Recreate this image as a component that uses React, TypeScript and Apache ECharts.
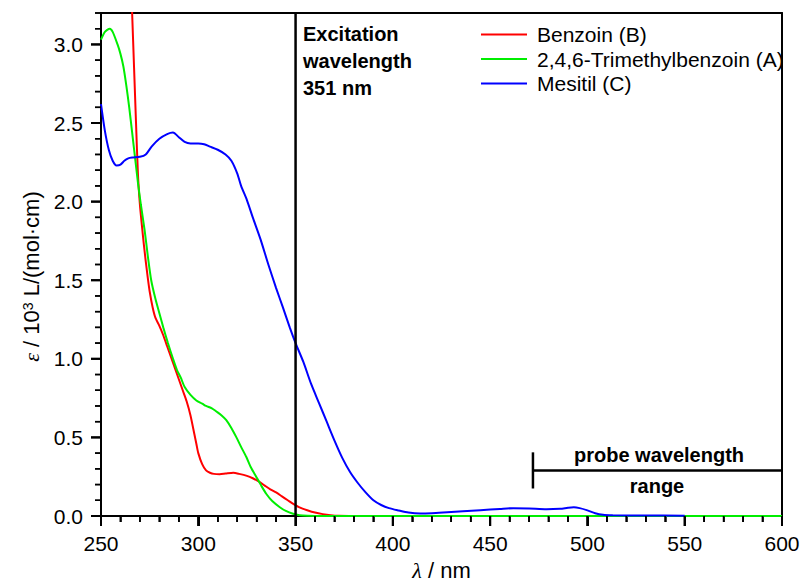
import React, { useEffect, useRef } from "react";
import * as echarts from "echarts";

// Benzoin (B) — [wavelength nm, epsilon 10^3 L/(mol·cm)]
const benzoin: [number, number][] = [
  [260, 5.2], [263, 4.2], [266, 3.2], [267, 2.85], [268, 2.5], [269, 2.17], [270, 1.98],
  [271, 1.85], [272, 1.73], [273, 1.62], [274, 1.52], [275, 1.43], [276.5, 1.33],
  [278, 1.26], [280, 1.21], [282, 1.15], [284, 1.08], [286, 1.01], [288, 0.94],
  [290, 0.87], [292, 0.8], [294, 0.73], [296, 0.64], [298, 0.52], [299, 0.46],
  [300, 0.4], [302, 0.33], [304, 0.29], [306, 0.275], [308, 0.268], [311, 0.266],
  [314, 0.27], [318, 0.275], [321, 0.268], [325, 0.255], [328, 0.24], [331, 0.22],
  [334, 0.195], [337, 0.17], [340, 0.15], [343, 0.125], [346, 0.1], [349, 0.075],
  [352, 0.055], [356, 0.037], [360, 0.022], [364, 0.012], [368, 0.005], [372, 0.001],
  [380, 0], [450, 0], [520, 0], [600, 0],
];

// 2,4,6-Trimethylbenzoin (A)
const trimethylbenzoin: [number, number][] = [
  [250, 3.03], [252, 3.08], [254.5, 3.1], [256, 3.08], [258.5, 3.0], [260, 2.94],
  [261.5, 2.86], [263, 2.74], [264.5, 2.6], [266, 2.44], [267.5, 2.28], [269, 2.12],
  [270.5, 1.98], [272.4, 1.82], [274, 1.66], [275.8, 1.5], [278, 1.38], [280, 1.29],
  [282, 1.2], [284.4, 1.1], [287, 1.0], [289, 0.93], [291, 0.88], [293, 0.82],
  [296, 0.77], [299, 0.735], [302, 0.715], [304, 0.7], [307, 0.685], [309.3, 0.665],
  [312, 0.64], [314.4, 0.61], [317, 0.56], [319.6, 0.5], [322, 0.44], [324.7, 0.375],
  [327, 0.31], [329.9, 0.247], [332.5, 0.19], [335, 0.14], [338, 0.095], [341.9, 0.056],
  [345, 0.032], [348.7, 0.014], [352, 0.005], [356, 0.001], [360, 0], [450, 0],
  [520, 0], [600, 0],
];

// Mesitil (C)
const mesitil: [number, number][] = [
  [250, 2.62], [252, 2.45], [254, 2.33], [256, 2.26], [258, 2.23], [260, 2.235],
  [262, 2.26], [264, 2.275], [266, 2.28], [270, 2.285], [273, 2.3], [276, 2.35],
  [280, 2.4], [284, 2.43], [287, 2.44], [290, 2.41], [293, 2.38], [296, 2.37],
  [300, 2.37], [303, 2.365], [306, 2.35], [310, 2.33], [314, 2.3], [317, 2.26],
  [320, 2.18], [322, 2.1], [325, 2.01], [328, 1.9], [332, 1.76], [336, 1.6],
  [340, 1.45], [343.4, 1.33], [347, 1.2], [350, 1.1], [354, 0.98], [358, 0.84],
  [362, 0.72], [366, 0.6], [370, 0.48], [374, 0.37], [378, 0.28], [382, 0.21],
  [386, 0.15], [390, 0.1], [394, 0.07], [398, 0.05], [403, 0.035], [408, 0.022],
  [414, 0.016], [420, 0.018], [428, 0.024], [436, 0.03], [445, 0.037], [455, 0.045],
  [462, 0.05], [470, 0.048], [479, 0.043], [486, 0.046], [490, 0.052], [493, 0.055],
  [496, 0.05], [500, 0.036], [504, 0.018], [508, 0.008], [513, 0.005], [530, 0.003],
  [550, 0.002],
];

const seriesNames = ["Benzoin (B)", "2,4,6-Trimethylbenzoin (A)", "Mesitil (C)"];
const seriesColors = ["#ff0000", "#00ee00", "#0000ff"];

const excitationWavelength = 350;
const probeStart = 472;
const probeEnd = 600;
const probeLevel = 0.29;
const probeTickLow = 0.175;
const probeTickHigh = 0.405;

const xMin = 250;
const xMax = 600;
const yMin = 0;
const yMax = 3.2;
const xMajorTicks = [250, 300, 350, 400, 450, 500, 550, 600];
const xMinorTicks = [
  260, 270, 280, 290, 310, 320, 330, 340, 360, 370, 380, 390, 410, 420, 430, 440,
  460, 470, 480, 490, 510, 520, 530, 540, 560, 570, 580, 590,
];
const yMajorTicks = [0, 0.5, 1.0, 1.5, 2.0, 2.5, 3.0];
const yMinorTicks = [
  0.1, 0.2, 0.3, 0.4, 0.6, 0.7, 0.8, 0.9, 1.1, 1.2, 1.3, 1.4, 1.6, 1.7, 1.8, 1.9,
  2.1, 2.2, 2.3, 2.4, 2.6, 2.7, 2.8, 2.9, 3.1, 3.2,
];

const FONT = "'Liberation Sans', Arial, sans-serif";

export default function App() {
  const ref = useRef<HTMLDivElement>(null);

  useEffect(() => {
    if (!ref.current) return;
    const chart = echarts.init(ref.current, undefined, { renderer: "svg" });

    const curveData = [benzoin, trimethylbenzoin, mesitil];
    const curves = curveData.map((d, i) => ({
      name: seriesNames[i],
      type: "line",
      data: d,
      symbol: "none",
      smooth: 0.25,
      clip: true,
      color: seriesColors[i],
      lineStyle: { color: seriesColors[i], width: 2 },
      z: 2 + i,
    }));

    const annotationLine = (name: string, data: [number, number][]) => ({
      name,
      type: "line",
      data,
      symbol: "none",
      silent: true,
      color: "#000",
      lineStyle: { color: "#000", width: 2.5 },
      z: 10,
    });

    // tick marks as a custom series, through the axes' scales, not clipped
    const tickSeries = (name: string, values: number[], dir: "x" | "y", len: number, w: number) => ({
      name,
      type: "custom",
      silent: true,
      clip: false,
      z: 30,
      data: values.map((v) => (dir === "x" ? [v, yMin] : [xMin, v])),
      renderItem: (_p: any, api: any) => {
        const pt = api.coord([api.value(0), api.value(1)]);
        const shape =
          dir === "x"
            ? { x: pt[0] - w / 2, y: pt[1], width: w, height: len }
            : { x: pt[0] - len, y: pt[1] - w / 2, width: len, height: w };
        return { type: "rect", shape, style: { fill: "#000" } };
      },
    });

    const boldText = (text: string, x: number, y: number, align: string, va: string, lh?: number) => ({
      type: "text",
      x,
      y,
      style: {
        text,
        fontSize: 20,
        fontWeight: "bold",
        fontFamily: FONT,
        lineHeight: lh,
        fill: "#000",
        align,
        verticalAlign: va,
      },
    });
    const textElements: any[] = [
      boldText("Excitation\nwavelength\n351 nm", 303, 20, "left", "top", 27),
      boldText("probe wavelength", 659, 455, "center", "middle"),
      boldText("range", 657, 486, "center", "middle"),
    ];

    const frameAxis = {
      type: "value",
      axisLine: { show: true, onZero: false, lineStyle: { color: "#000", width: 2 } },
      axisTick: { show: false },
      minorTick: { show: false },
      axisLabel: { show: false },
      splitLine: { show: false },
    };

    const option: any = {
      animation: false,
      textStyle: { fontFamily: FONT },
      grid: {
        left: 101,
        right: 20,
        top: 13,
        bottom: 66,
        show: false,
        containLabel: false,
        outerBoundsMode: "none",
      },
      legend: {
        data: seriesNames.map((n) => ({ name: n, icon: "rect" })),
        orient: "vertical",
        left: 481,
        top: 24,
        padding: 0,
        itemWidth: 46,
        itemHeight: 2,
        itemGap: 3.5,
        textStyle: { fontSize: 21, color: "#000", fontFamily: FONT, padding: [0, 0, 0, 5] },
      },
      xAxis: [
        {
          type: "value",
          position: "bottom",
          min: xMin,
          max: xMax,
          interval: 50,
          axisLine: { show: true, onZero: false, lineStyle: { color: "#000", width: 2 } },
          axisTick: { show: true, inside: false, length: 10, lineStyle: { color: "#000", width: 2 } },
          minorTick: { show: true, splitNumber: 5, length: 6, lineStyle: { color: "#000", width: 1.5 } },
          splitLine: { show: false },
          minorSplitLine: { show: false },
          axisLabel: { show: true, fontSize: 21, color: "#000", fontFamily: FONT, margin: 17 },
          name: "{i|λ} / nm",
          nameLocation: "middle",
          nameGap: 43,
          nameTextStyle: {
            fontSize: 22,
            color: "#000",
            fontFamily: FONT,
            rich: { i: { fontSize: 22, fontStyle: "italic", fontFamily: "'Liberation Serif', serif", color: "#000" } },
          },
        },
        { ...frameAxis, position: "top", min: xMin, max: xMax },
      ],
      yAxis: [
        {
          type: "value",
          position: "left",
          min: yMin,
          max: yMax,
          axisLine: { show: true, onZero: false, lineStyle: { color: "#000", width: 2 } },
          axisTick: { show: false },
          splitLine: { show: false },
          axisLabel: {
            show: true,
            fontSize: 21,
            color: "#000",
            fontFamily: FONT,
            margin: 18,
            customValues: yMajorTicks,
            formatter: (v: number) => v.toFixed(1),
          },
          name: "{i|ε} / 10{s|3} L/(mol·cm)",
          nameLocation: "middle",
          nameGap: 58,
          nameTextStyle: {
            fontSize: 22,
            color: "#000",
            fontFamily: FONT,
            padding: [0, 24, 0, 0],
            rich: {
              i: { fontSize: 22, fontStyle: "italic", fontFamily: "'Liberation Serif', serif", color: "#000" },
              s: { fontSize: 14, verticalAlign: "top", color: "#000", fontFamily: FONT, padding: [0, 0, 8, 0] },
            },
          },
        },
        { ...frameAxis, position: "right", min: yMin, max: yMax },
      ],
      graphic: textElements,
      series: [
        ...curves,
        annotationLine("excitation", [
          [excitationWavelength, yMin],
          [excitationWavelength, yMax],
        ]),
        annotationLine("probe", [
          [probeStart, probeLevel],
          [probeEnd, probeLevel],
        ]),
        annotationLine("probeTick", [
          [probeStart, probeTickLow],
          [probeStart, probeTickHigh],
        ]),
        tickSeries("xMajorTicks", xMajorTicks, "x", 10, 2),
        tickSeries("xMinorTicks", xMinorTicks, "x", 6, 1.5),
        tickSeries("yMajorTicks", yMajorTicks, "y", 10, 2),
        tickSeries("yMinorTicks", yMinorTicks, "y", 6, 1.5),
      ],
    };

    chart.setOption(option);

    // also as graphic rectangles, using single-axis pixel conversion
    try {
      const px = (v: number) => Number(chart.convertToPixel({ xAxisIndex: 0 }, v));
      const py = (v: number) => Number(chart.convertToPixel({ yAxisIndex: 0 }, v));
      const x0 = px(xMin);
      const y0 = py(yMin);
      const rectEl = (x: number, y: number, width: number, height: number) => ({
        type: "rect",
        silent: true,
        z: 100,
        shape: { x, y, width, height },
        style: { fill: "#000" },
      });
      const ticks: any[] = [];
      if (isFinite(x0) && isFinite(y0)) {
        xMajorTicks.forEach((v) => ticks.push(rectEl(px(v) - 1, y0, 2, 10)));
        xMinorTicks.forEach((v) => ticks.push(rectEl(px(v) - 0.75, y0, 1.5, 6)));
        yMajorTicks.forEach((v) => ticks.push(rectEl(x0 - 10, py(v) - 1, 10, 2)));
        yMinorTicks.forEach((v) => ticks.push(rectEl(x0 - 6, py(v) - 0.75, 6, 1.5)));
      }
      chart.setOption({ graphic: [...textElements, ...ticks] });
    } catch (e) {
      console.error(e);
    }

    return () => chart.dispose();
  }, []);

  return (
    <div
      ref={ref}
      style={{ position: "absolute", left: 0, top: 0, width: 802, height: 582, background: "#fff" }}
    />
  );
}
